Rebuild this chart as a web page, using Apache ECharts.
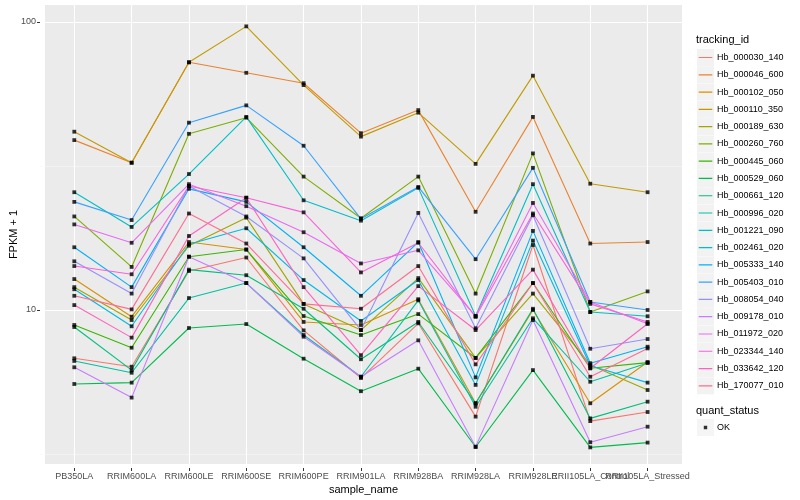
<!DOCTYPE html>
<html>
<head>
<meta charset="utf-8">
<script src="https://cdn.jsdelivr.net/npm/echarts@6/dist/echarts.min.js"></script>
<style>html,body{margin:0;padding:0;background:#fff}#c{width:800px;height:500px}</style>
</head>
<body>
<div id="c"></div>
<script>
const categories = ["PB350LA","RRIM600LA","RRIM600LE","RRIM600SE","RRIM600PE","RRIM901LA","RRIM928BA","RRIM928LA","RRIM928LE","RRII105LA_Control","RRII105LA_Stressed"];
const trackingIds = ["Hb_000030_140","Hb_000046_600","Hb_000102_050","Hb_000110_350","Hb_000189_630","Hb_000260_760","Hb_000445_060","Hb_000529_060","Hb_000661_120","Hb_000996_020","Hb_001221_090","Hb_002461_020","Hb_005333_140","Hb_005403_010","Hb_008054_040","Hb_009178_010","Hb_011972_020","Hb_023344_140","Hb_033642_120","Hb_170077_010"];

const hb000030_140 = [6.80, 6.36, 13.65, 15.2, 8.50, 5.81, 8.99, 4.27, 16.8, 4.12, 4.43];
const hb000046_600 = [38.8, 32.4, 72.2, 66.4, 61.1, 41.0, 49.3, 21.9, 46.7, 17.0, 17.2];
const hb000102_050 = [12.8, 9.48, 17.2, 16.2, 9.09, 8.87, 10.9, 4.75, 10.0, 4.75, 6.60];
const hb000110_350 = [41.5, 32.4, 72.2, 96.2, 60.2, 39.9, 48.3, 32.1, 64.9, 27.4, 25.6];
const hb000189_630 = [12.0, 9.23, 16.7, 20.9, 10.5, 8.52, 12.9, 6.82, 11.4, 6.45, 5.28];
const hb000260_760 = [21.1, 14.1, 40.8, 46.4, 29.0, 20.8, 29.0, 11.4, 34.9, 9.84, 11.6];
const hb000445_060 = [8.87, 7.40, 15.3, 16.2, 9.53, 8.19, 9.68, 6.82, 12.4, 6.28, 6.57];
const hb000529_060 = [5.54, 5.60, 8.66, 8.94, 6.78, 5.23, 6.26, 3.35, 6.19, 3.34, 3.47];
const hb000661_120 = [8.73, 6.19, 13.8, 13.2, 10.1, 6.75, 9.09, 4.75, 10.1, 4.21, 4.81];
const hb000996_020 = [6.66, 6.06, 11.0, 12.4, 8.19, 5.87, 10.8, 4.62, 9.36, 5.64, 6.55];
const hb001221_090 = [25.6, 19.4, 29.6, 46.7, 24.0, 20.4, 26.5, 9.53, 27.3, 9.84, 9.51];
const hb002461_020 = [11.8, 8.78, 16.9, 19.2, 12.7, 9.16, 12.7, 5.50, 17.4, 6.41, 5.60];
const hb005333_140 = [16.5, 12.0, 26.3, 23.7, 16.5, 11.2, 17.2, 5.84, 18.8, 6.54, 7.46];
const hb005403_010 = [23.7, 20.5, 44.6, 51.2, 37.1, 20.7, 26.7, 15.0, 31.1, 10.66, 10.0];
const hb008054_040 = [14.75, 11.4, 26.9, 21.1, 15.1, 8.52, 21.7, 8.64, 21.3, 7.34, 7.93];
const hb009178_010 = [6.33, 4.97, 15.3, 12.4, 8.08, 5.87, 7.85, 3.36, 9.23, 3.48, 3.94];
const hb011972_020 = [19.8, 17.1, 27.3, 22.9, 18.6, 14.5, 16.1, 9.53, 23.5, 10.66, 8.96];
const hb023344_140 = [14.2, 13.3, 26.9, 24.5, 21.8, 13.5, 17.1, 9.46, 21.6, 10.5, 9.09];
const hb033642_120 = [10.4, 8.02, 18.05, 24.5, 12.0, 6.97, 12.1, 8.52, 13.8, 6.28, 8.96];
const hb170077_010 = [11.2, 10.05, 21.6, 17.0, 10.5, 10.1, 14.2, 6.48, 12.4, 5.87, 7.36];

const seriesValues = [hb000030_140, hb000046_600, hb000102_050, hb000110_350, hb000189_630, hb000260_760, hb000445_060, hb000529_060, hb000661_120, hb000996_020, hb001221_090, hb002461_020, hb005333_140, hb005403_010, hb008054_040, hb009178_010, hb011972_020, hb023344_140, hb033642_120, hb170077_010];
const yTickValues = [10, 100];
const quantStatus = "OK";

const palette = ["#F8766D","#EA8331","#D89000","#C09B00","#A3A500","#7CAE00","#39B600","#00BB4E","#00BF7D","#00C1A3","#00BFC4","#00BAE0","#00B0F6","#35A2FF","#9590FF","#C77CFF","#E76BF3","#FA62DB","#FF62BC","#FF6C91"];

const FONT = "Liberation Sans, Arial, Helvetica, sans-serif";
const chart = echarts.init(document.getElementById('c'), null, {renderer: 'canvas'});

const lineIcon = 'path://M0,0h0.01v0.01h-0.01zM1.7,7.9h13.6v1.2h-13.6zM16.99,16.99h0.01v0.01h-0.01z';
const dotIcon = 'path://M0,0h0.01v0.01h-0.01zM6.8,6.8h3.4v3.4h-3.4zM16.99,16.99h0.01v0.01h-0.01z';

const logMin = Math.pow(10, 0.4523), logMax = Math.pow(10, 2.0572);
const lg = Math.log10;

const series = trackingIds.map((id, i) => ({
  name: id, type: 'line', xAxisIndex: 3, yAxisIndex: 3,
  data: seriesValues[i], symbol: 'none', color: palette[i],
  lineStyle: {width: 1.1, color: palette[i]}, z: 2, silent: true
}));
const pts = [];
seriesValues.forEach(vals => vals.forEach((v, j) => pts.push([j, v])));
series.push({
  name: quantStatus, type: 'scatter', xAxisIndex: 3, yAxisIndex: 3,
  data: pts, symbol: 'rect', symbolSize: 3.8, color: '#000', itemStyle: {color: '#000'}, z: 5, silent: true
});

const hidden = {show: false};
const option = {
  animation: false,
  backgroundColor: '#fff',
  textStyle: {fontFamily: FONT},
  title: [
    {text: 'tracking_id', left: 696, top: 34, padding: 0, textStyle: {fontSize: 11, fontWeight: 'normal', color: '#000', fontFamily: FONT}},
    {text: 'quant_status', left: 696, top: 405, padding: 0, textStyle: {fontSize: 11, fontWeight: 'normal', color: '#000', fontFamily: FONT}}
  ],
  grid: [
    {left: 40, right: 118, top: 5, bottom: 32, show: true, backgroundColor: '#ebebeb', borderWidth: 0},
    {left: 40, right: 118, top: 22, bottom: 46},
    {left: 40, right: 118, top: 22, bottom: 190},
    {left: 74.3, right: 152.4, top: 5, bottom: 32}
  ],
  xAxis: [
    {gridIndex: 0, type: 'value', min: 0, max: 1, name: 'sample_name', nameLocation: 'middle', nameGap: 20,
     nameTextStyle: {fontSize: 11, color: '#000', fontFamily: FONT},
     axisLine: hidden, axisTick: hidden, axisLabel: hidden, splitLine: hidden},
    {gridIndex: 1, type: 'value', show: false, min: 0, max: 1},
    {gridIndex: 2, type: 'value', show: false, min: 0, max: 1},
    {gridIndex: 3, type: 'category', data: categories, boundaryGap: false,
     axisLine: hidden,
     axisTick: {show: true, length: 3, interval: 0, lineStyle: {color: '#333', width: 1}},
     axisLabel: {interval: 0, margin: 4, fontSize: 9, color: '#4d4d4d', fontFamily: FONT},
     splitLine: {show: true, interval: 0, lineStyle: {color: '#fff', width: 1.1}}}
  ],
  yAxis: [
    {gridIndex: 0, type: 'value', min: 0, max: 1, name: 'FPKM + 1', nameLocation: 'middle', nameGap: 26,
     nameTextStyle: {fontSize: 11, color: '#000', fontFamily: FONT},
     axisLine: hidden, axisTick: hidden, axisLabel: hidden, splitLine: hidden},
    {gridIndex: 1, type: 'value', min: 0.5, max: 2, interval: 0.5,
     axisLine: hidden, axisTick: hidden, axisLabel: hidden,
     splitLine: {show: true, lineStyle: {color: '#f6f6f6', width: 0.6}}},
    {gridIndex: 2, type: 'value', min: lg(yTickValues[0]), max: lg(yTickValues[1]), interval: 1,
     axisLine: hidden,
     axisTick: {show: true, length: 3, lineStyle: {color: '#333', width: 1}},
     axisLabel: {margin: 4, fontSize: 9, color: '#4d4d4d', fontFamily: FONT,
       formatter: v => String(Math.round(Math.pow(10, v)))},
     splitLine: {show: true, lineStyle: {color: '#fff', width: 1.1}}},
    {gridIndex: 3, type: 'log', logBase: 10, min: logMin, max: logMax,
     axisLine: hidden, axisTick: hidden, axisLabel: hidden, splitLine: hidden}
  ],
  legend: [
    {orient: 'vertical', left: 697, top: 49, itemWidth: 17, itemHeight: 17, itemGap: 0.28, padding: 0,
     data: trackingIds, icon: 'rect', itemStyle: {color: '#f2f2f2', borderWidth: 0}, selectedMode: false,
     formatter: () => '', textStyle: {fontSize: 9}, z: 3},
    {orient: 'vertical', left: 697, top: 49, itemWidth: 17, itemHeight: 17, itemGap: 0.28, padding: 0,
     data: trackingIds, icon: lineIcon, selectedMode: false, itemStyle: {borderWidth: 0},
     textStyle: {fontSize: 9, color: '#000', fontFamily: FONT, padding: [0, 0, 0, -2]}, z: 4},
    {orient: 'vertical', left: 697, top: 419, itemWidth: 17, itemHeight: 17, padding: 0,
     data: [quantStatus], icon: 'rect', itemStyle: {color: '#f2f2f2', borderWidth: 0}, selectedMode: false,
     formatter: () => '', textStyle: {fontSize: 9}, z: 3},
    {orient: 'vertical', left: 697, top: 419, itemWidth: 17, itemHeight: 17, padding: 0,
     data: [quantStatus], icon: dotIcon, itemStyle: {color: '#000', borderWidth: 0}, selectedMode: false,
     textStyle: {fontSize: 9, color: '#000', fontFamily: FONT, padding: [0, 0, 0, -2]}, z: 4}
  ],
  series: series
};
chart.setOption(option);
</script>
</body>
</html>
